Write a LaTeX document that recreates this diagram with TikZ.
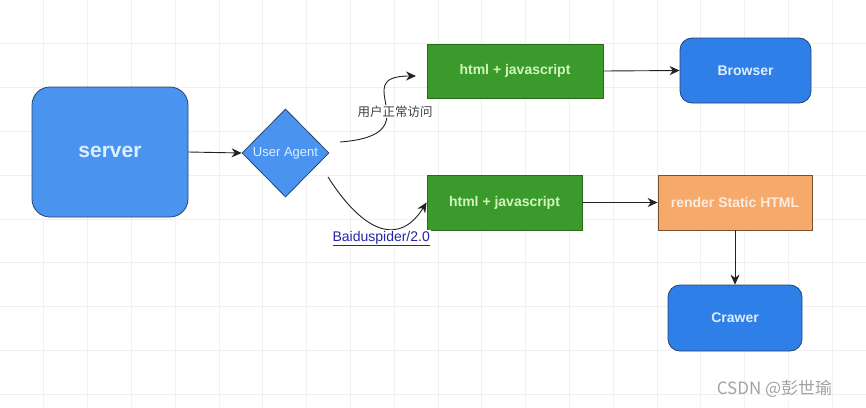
\documentclass[tikz,border=0pt]{standalone}
\usepackage{fontspec}
\setmainfont{Liberation Sans}
\newfontfamily\cjk{Noto Sans CJK SC}
\usetikzlibrary{shapes.geometric,arrows.meta}
\definecolor{gridc}{HTML}{F0F0F0}
\definecolor{bluelt}{HTML}{4A94F0}
\definecolor{bluedk}{HTML}{2F7FE8}
\definecolor{blueln}{HTML}{24446E}
\definecolor{bluetx}{HTML}{DCEEFF}
\definecolor{greenf}{HTML}{3A9A2C}
\definecolor{greenln}{HTML}{2B6A1E}
\definecolor{greentx}{HTML}{D2F5BA}
\definecolor{orangef}{HTML}{F5A96B}
\definecolor{orangeln}{HTML}{7A5232}
\definecolor{orangetx}{HTML}{FDEBDD}
\definecolor{linkc}{HTML}{2424A8}
\definecolor{edgec}{HTML}{222222}
\tikzset{
  box/.style={draw=#1, line width=0.8pt, inner sep=0pt, align=center},
  bluebox/.style={box=blueln, fill=bluedk, text=bluetx, rounded corners=12pt,
    font=\fontsize{14}{16}\selectfont\bfseries},
  greenbox/.style={box=greenln, fill=greenf, text=greentx,
    font=\fontsize{14}{16}\selectfont\bfseries},
  orangebox/.style={box=orangeln, fill=orangef, text=orangetx,
    font=\fontsize{14}{16}\selectfont\bfseries},
  conn/.style={draw=edgec, line width=0.9pt, -{Stealth[length=10pt,width=9pt]}},
  lbl/.style={fill=white, inner sep=1pt}
}
\begin{document}
\begin{tikzpicture}[x=1pt,y=-1pt]
\useasboundingbox (0,0) rectangle (866,407);
\fill[white] (0,0) rectangle (866,407);
\foreach \i in {1,...,19} \draw[gridc, line width=0.8pt] (43.8*\i,0) -- (43.8*\i,407);
\foreach \j in {1,...,9} \draw[gridc, line width=0.8pt] (0,43.8*\j) -- (866,43.8*\j);

\node[bluebox, fill=bluelt, rounded corners=18pt, minimum width=156pt, minimum height=130pt,
  font=\fontsize{21}{24}\selectfont\bfseries] (server) at (110,152) {server};
\node[diamond, box=blueln, fill=bluelt, text=bluetx, minimum width=87pt, minimum height=88pt,
  font=\fontsize{13}{15}\selectfont] (ua) at (285.5,153) {User Agent};
\node[greenbox, minimum width=176pt, minimum height=54pt] (html1) at (515,71) {html + javascript};
\node[bluebox, minimum width=131pt, minimum height=65pt] (browser) at (745.5,70.5) {Browser};
\node[greenbox, minimum width=155pt, minimum height=55pt] (html2) at (504.5,202.5) {html + javascript};
\node[orangebox, minimum width=154pt, minimum height=55pt] (render) at (735,202.5) {render Static HTML};
\node[bluebox, minimum width=134pt, minimum height=66pt] (crawer) at (735,318) {Crawer};

\coordinate (s1) at (340,142);
\coordinate (e1) at (416,76);
\coordinate (s2) at (328,177);

\draw[conn] (server.east) -- (ua.west);
\draw[conn] (html1.east) -- (browser.west);
\draw[conn] (html2.east) -- (render.west);
\draw[conn] (render.south) -- (crawer.north);
\draw[conn] (s1) .. controls (435,135) and (345,76) .. (e1)
  node[lbl, pos=0.5, xshift=8pt, yshift=-5pt, text=black!75, font=\cjk\fontsize{12.5}{14}\selectfont] (l1) {用户正常访问};
\draw[conn] (s2) .. controls (365,235) and (400,245) .. (html2.west)
  node[lbl, pos=0.5, yshift=-11pt, text=linkc, font=\fontsize{14}{16}\selectfont] (l2) {\underline{Baiduspider/2.0}};

\node[text=black!36, font=\cjk\fontsize{17}{19}\selectfont, inner sep=0pt] (wm) at (774.5,389) {CSDN @彭世瑜};
\end{tikzpicture}
\end{document}
